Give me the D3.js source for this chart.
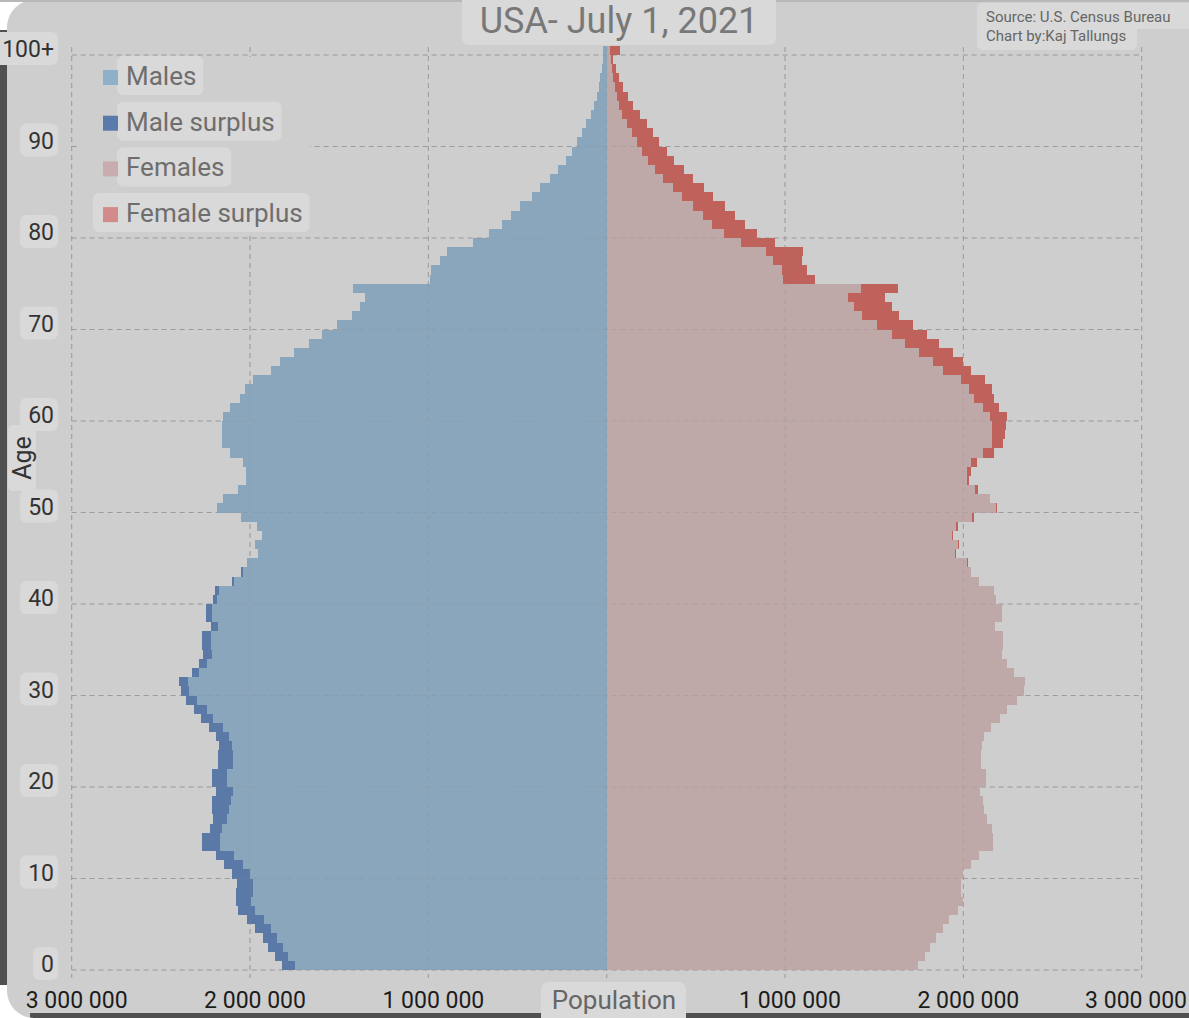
<!DOCTYPE html>
<html><head><meta charset="utf-8">
<script src="https://cdn.jsdelivr.net/npm/d3@7"></script>
<style>html,body{margin:0;padding:0;background:#cecece;overflow:hidden}</style>
</head><body><svg id="c" width="1189" height="1018"></svg>
<script>
// Population by single year of age (thousands), index = age, last = 100+
const ageLabels = d3.range(0, 100).map(String).concat(["100+"]);
const males = [
 1819,1860,1898,1926,1973,2016,2066,2079,2079,2072,
 2103,2146,2191,2271,2271,2225,2206,2212,2212,2193,
 2215,2215,2178,2178,2174,2191,2229,2277,2313,2359,
 2389,2397,2328,2287,2262,2271,2268,2219,2247,2247,
 2206,2197,2100,2053,2019,1954,1970,1935,1960,2050,
 2185,2150,2066,2020,2020,2040,2110,2160,2160,2160,
 2150,2110,2057,2029,1985,1884,1832,1754,1670,1598,
 1514,1430,1384,1355,1425, 990, 985, 935, 894, 752,
  658, 589, 539, 486, 421, 374, 318, 271, 230, 196,
  168, 140, 116,  88,  71,  56,  45,  37,  28,  22,
   19];
const females = [
 1748,1785,1813,1847,1884,1921,1972,1997,1985,1985,
 2000,2041,2090,2168,2168,2159,2131,2116,2109,2094,
 2127,2127,2097,2097,2103,2116,2154,2206,2243,2300,
 2340,2346,2284,2243,2215,2221,2221,2178,2215,2215,
 2183,2172,2090,2041,2028,1959,1978,1940,1972,2060,
 2190,2150,2080,2030,2040,2075,2170,2225,2234,2240,
 2243,2200,2170,2160,2120,2040,2000,1940,1865,1795,
 1720,1641,1598,1561,1632,1168,1122,1094,1100, 944,
  845, 776, 720, 663, 594, 546, 486, 434, 377, 336,
  295, 262, 224, 187, 149, 121,  93,  71,  52,  37,
   75];
const xTickValues = [-3000, -2000, -1000, 1000, 2000, 3000];
const xGridValues = [-3000, -2000, -1000, 0, 1000, 2000, 3000];
const yTickValues = [0, 10, 20, 30, 40, 50, 60, 70, 80, 90, 100];
const yTickLabels = ["0", "10", "20", "30", "40", "50", "60", "70", "80", "90", "100+"];
const legendItems = ["Males", "Male surplus", "Females", "Female surplus"];
const legendColors = ["#8fb0c9", "#5a7aab", "#c9adae", "#d48a8a"];
const titleText = "USA- July 1, 2021";
const sourceLines = ["Source: U.S. Census Bureau", "Chart by:Kaj Tallungs"];

const C = {bg:"#cecece", male:"#89a6bd", maleS:"#5b79a7", fem:"#bea9a8", femS:"#bf625c",
           box:"#d9d9d9", grid:"#a6a6a6"};
const FONT = "Roboto, 'Noto Sans', sans-serif";

const svg = d3.select("#c");
const x = d3.scaleLinear().domain([-3000, 3000]).range([71.7, 1141.7]);
const y = d3.scaleLinear().domain([0, 101]).range([970, 970 - 9.15 * 101]);

svg.append("rect").attr("width", 1189).attr("height", 1018).attr("fill", C.bg);

// screenshot frame (drawn under labels)
svg.append("path").attr("d", "M0,0 H34 A27,27 0 0 0 7,27 V36 H0 Z").attr("fill", "#fff");
svg.append("rect").attr("x", 0).attr("y", 30).attr("width", 7).attr("height", 970).attr("fill", "#505050");
svg.append("rect").attr("x", 0).attr("y", 0).attr("width", 1189).attr("height", 2).attr("fill", "#b8b8b8");
svg.append("rect").attr("x", 30).attr("y", 1013).attr("width", 1159).attr("height", 5).attr("fill", "#505050");
svg.append("path").attr("d", "M0,985 V1018 H34 A27,27 0 0 1 7,991 V985 Z").attr("fill", "#fff");

function grid(g, stroke, op) {
  g.selectAll(".v").data(xGridValues).join("line")
    .attr("x1", d => x(d)).attr("x2", d => x(d))
    .attr("y1", y(100) - 8).attr("y2", y(0) + 8)
    .attr("stroke", stroke).attr("stroke-opacity", op).attr("stroke-dasharray", "5,4");
  g.selectAll(".h").data(yTickValues).join("line")
    .attr("x1", x(-3000)).attr("x2", x(3000))
    .attr("y1", d => y(d)).attr("y2", d => y(d))
    .attr("stroke", stroke).attr("stroke-opacity", op).attr("stroke-dasharray", "5,4");
}
grid(svg.append("g"), C.grid, 1);

const data = ageLabels.map((a, i) => ({i, m: males[i], f: females[i]}));
const bars = svg.append("g").attr("shape-rendering", "crispEdges");
bars.selectAll(".mb").data(data).join("rect")
  .attr("x", d => x(-Math.min(d.m, d.f))).attr("width", d => x(0) - x(-Math.min(d.m, d.f)))
  .attr("y", d => y(d.i + 1)).attr("height", d => y(d.i) - y(d.i + 1)).attr("fill", C.male);
bars.selectAll(".fb").data(data).join("rect")
  .attr("x", x(0)).attr("width", d => x(Math.min(d.m, d.f)) - x(0))
  .attr("y", d => y(d.i + 1)).attr("height", d => y(d.i) - y(d.i + 1)).attr("fill", C.fem);
bars.selectAll(".ms").data(data.filter(d => d.m > d.f)).join("rect")
  .attr("x", d => x(-d.m)).attr("width", d => x(-d.f) - x(-d.m))
  .attr("y", d => y(d.i + 1)).attr("height", d => y(d.i) - y(d.i + 1)).attr("fill", C.maleS);
bars.selectAll(".fs").data(data.filter(d => d.f > d.m)).join("rect")
  .attr("x", d => x(d.m)).attr("width", d => x(d.f) - x(d.m))
  .attr("y", d => y(d.i + 1)).attr("height", d => y(d.i) - y(d.i + 1)).attr("fill", C.femS);

grid(svg.append("g"), "#8a8a8a", 0.28);

// legend
svg.append("rect").attr("x", 77).attr("y", 57).attr("width", 233).attr("height", 179).attr("fill", C.bg);
const lg = svg.append("g");
legendItems.forEach((t, k) => {
  const base = 85 + k * 45.7;
  const g = lg.append("g");
  const box = g.append("rect").attr("rx", 6).attr("fill", C.box);
  g.append("rect").attr("x", 103).attr("y", base - 15).attr("width", 15).attr("height", 15).attr("fill", legendColors[k]);
  const tx = g.append("text").attr("x", 126).attr("y", base).attr("font-family", FONT)
    .attr("font-size", 26).attr("fill", "#6e6e6e").text(t);
  const w = tx.node().getComputedTextLength();
  const x0 = k === 3 ? 93 : 117;
  box.attr("x", x0).attr("y", base - 29).attr("width", 126 + w + 7 - x0).attr("height", 39);
  box.lower();
});

// title
const tg = svg.append("g");
tg.append("rect").attr("x", 462).attr("y", -6).attr("width", 314).attr("height", 51).attr("rx", 6).attr("fill", C.box);
tg.append("text").attr("x", 619).attr("y", 33).attr("text-anchor", "middle").attr("font-family", FONT)
  .attr("font-size", 36).attr("fill", "#787878").text(titleText);

// source
const sg = svg.append("g");
sg.append("rect").attr("x", 977).attr("y", 3).attr("width", 220).attr("height", 26).attr("rx", 5).attr("fill", C.box);
sg.append("rect").attr("x", 977).attr("y", 22).attr("width", 160).attr("height", 28).attr("rx", 5).attr("fill", C.box);
sourceLines.forEach((t, k) => sg.append("text").attr("x", 986).attr("y", 22 + k * 19)
  .attr("font-family", FONT).attr("font-size", 15).attr("fill", "#666").text(t));

// y tick labels
const yl = svg.append("g");
yTickValues.forEach((v, k) => {
  const g = yl.append("g");
  const t = g.append("text").attr("x", 54).attr("y", y(v) + 2).attr("text-anchor", "end")
    .attr("font-family", FONT).attr("font-size", 23).attr("fill", "#333").text(yTickLabels[k]);
  const w = t.node().getComputedTextLength();
  g.insert("rect", "text").attr("x", 54 - w - 8).attr("y", y(v) - 23).attr("width", w + 12)
    .attr("height", 33).attr("rx", 6).attr("fill", C.box);
});
// Age label
const ag = svg.append("g").attr("transform", "translate(22,458) rotate(-90)");
ag.append("rect").attr("x", -33).attr("y", -14).attr("width", 66).attr("height", 28).attr("rx", 5).attr("fill", C.box);
ag.append("text").attr("x", 0).attr("y", 9).attr("text-anchor", "middle").attr("font-family", FONT)
  .attr("font-size", 25).attr("fill", "#333").text("Age");

// x tick labels
const fmt = v => d3.format(",")(Math.abs(v) * 1000).replace(/,/g, " ");
svg.append("g").selectAll("text").data(xTickValues).join("text")
  .attr("x", d => d === 3000 ? 1187 : x(d) + 5).attr("y", 1008)
  .attr("text-anchor", d => d === 3000 ? "end" : "middle")
  .attr("font-family", FONT).attr("font-size", 23).attr("fill", "#1c1c1c").text(fmt);
// Population label
svg.append("rect").attr("x", 541).attr("y", 982).attr("width", 145).attr("height", 45).attr("rx", 7).attr("fill", C.box);
svg.append("text").attr("x", 614).attr("y", 1009).attr("text-anchor", "middle").attr("font-family", FONT)
  .attr("font-size", 26).attr("fill", "#666").text("Population");
</script></body></html>
